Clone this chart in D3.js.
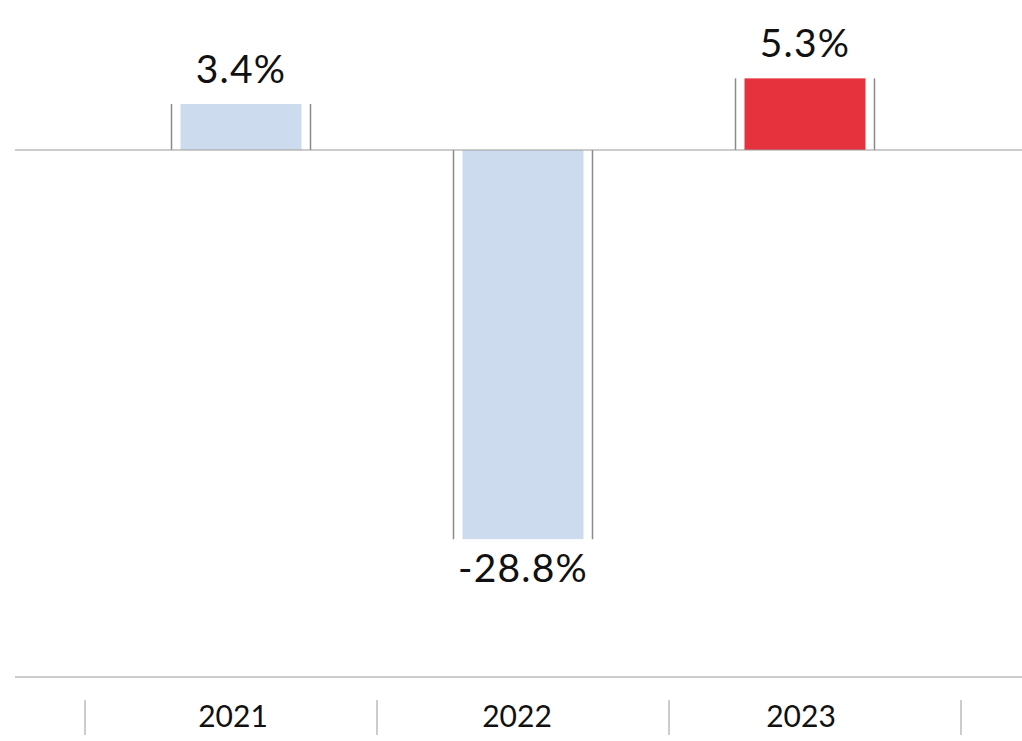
<!DOCTYPE html>
<html>
<head>
<meta charset="utf-8">
<script src="https://cdn.jsdelivr.net/npm/d3@7"></script>
<style>
  html, body { margin: 0; padding: 0; background: #fff; }
  svg text { font-family: "Lato", "Open Sans", sans-serif; fill: #111; font-weight: 400; }
</style>
</head>
<body>
<svg id="chart" width="1022" height="741"></svg>
<script>
// data
var years = ["2021", "2022", "2023"];
var changes = [3.4, -28.8, 5.3];
var barColors = ["#ccdcee", "#ccdcee", "#e5323d"];

var svg = d3.select("#chart");

// scales
var y = d3.scaleLinear().domain([-39, 11.1]).range([677, 0]);
var x = d3.scaleBand().domain(years).range([100, 946]).paddingInner(0).paddingOuter(0);
var xTick = d3.scaleBand().domain(years).range([85, 961]);
var xLabel = d3.scaleBand().domain(years).range([91, 943]);

var barW = 121, frameW = 139;

var rows = years.map(function (d, i) {
  return { year: d, value: changes[i], color: barColors[i] };
});

// bars
var g = svg.append("g");
g.selectAll("rect.bar")
  .data(rows)
  .enter()
  .append("rect")
  .attr("class", "bar")
  .attr("x", function (d) { return x(d.year) + x.bandwidth() / 2 - barW / 2; })
  .attr("y", function (d) { return d.value > 0 ? y(d.value) : y(0); })
  .attr("width", barW)
  .attr("height", function (d) { return Math.abs(y(d.value) - y(0)); })
  .style("fill", function (d) { return d.color; });

// thin grey lines beside each bar
[-1, 1].forEach(function (side) {
  g.selectAll("line.side" + side)
    .data(rows)
    .enter()
    .append("line")
    .attr("x1", function (d) { return x(d.year) + x.bandwidth() / 2 + side * frameW / 2; })
    .attr("x2", function (d) { return x(d.year) + x.bandwidth() / 2 + side * frameW / 2; })
    .attr("y1", function (d) { return y(d.value); })
    .attr("y2", y(0))
    .style("stroke", "#8a8a8a")
    .style("stroke-width", 1.5);
});

// zero line
svg.append("line")
  .attr("x1", 15).attr("x2", 1022)
  .attr("y1", y(0)).attr("y2", y(0))
  .style("stroke", "#999")
  .style("stroke-width", 1.2);

// value labels
g.selectAll("text.val")
  .data(rows)
  .enter()
  .append("text")
  .attr("class", "val")
  .attr("x", function (d) { return x(d.year) + x.bandwidth() / 2; })
  .attr("y", function (d) { return d.value > 0 ? y(d.value) - 21 : y(d.value) + 43; })
  .attr("text-anchor", "middle")
  .style("font-size", "39px")
  .style("letter-spacing", "1.2px")
  .text(function (d) { return d.value.toFixed(1) + "%"; });

// bottom axis
svg.append("line")
  .attr("x1", 15).attr("x2", 1022)
  .attr("y1", 677).attr("y2", 677)
  .style("stroke", "#999")
  .style("stroke-width", 1.2);

var tickPos = years.map(function (d) { return xTick(d); }).concat([xTick.range()[1]]);
svg.append("g").selectAll("line")
  .data(tickPos)
  .enter()
  .append("line")
  .attr("x1", function (d) { return d; })
  .attr("x2", function (d) { return d; })
  .attr("y1", 700).attr("y2", 735)
  .style("stroke", "#aaa")
  .style("stroke-width", 1.2);

svg.append("g").selectAll("text")
  .data(years)
  .enter()
  .append("text")
  .attr("x", function (d) { return xLabel(d) + xLabel.bandwidth() / 2; })
  .attr("y", 727)
  .attr("text-anchor", "middle")
  .style("font-size", "30px")
  .text(function (d) { return d; });
</script>
</body>
</html>
